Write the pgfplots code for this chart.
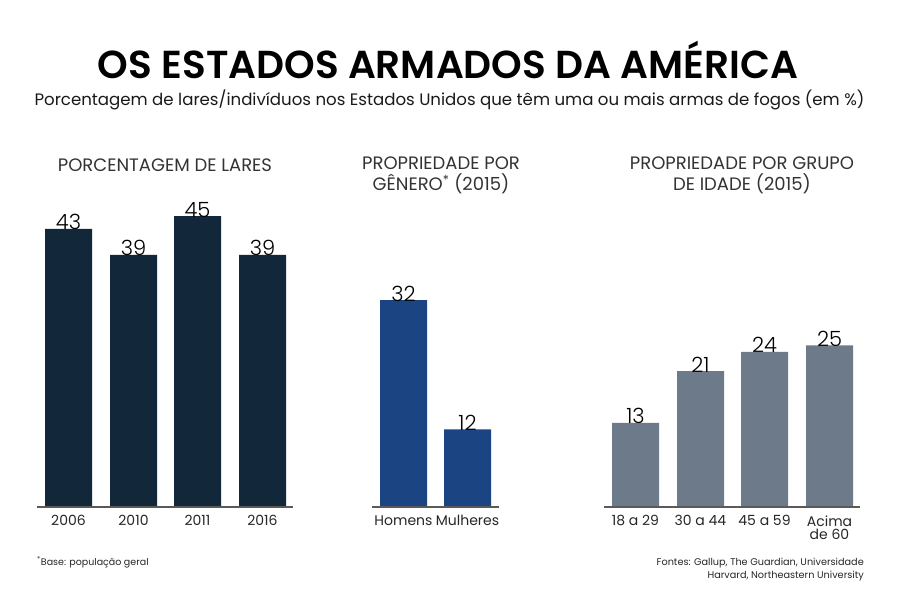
\documentclass[border=0pt]{standalone}
\usepackage{pgfplots}
\pgfplotsset{compat=1.18}
\usepackage{fontspec}
\setmainfont{Poppins}[UprightFont=* Light, BoldFont=* SemiBold]
\newfontfamily\popreg{Poppins}
\definecolor{navy}{HTML}{12283A}
\definecolor{blu}{HTML}{1B4483}
\definecolor{gry}{HTML}{6C7A89}
\definecolor{basel}{HTML}{5A5A5A}
\begin{document}
\begin{tikzpicture}
\begin{axis}[
 scale only axis, width=900pt, height=600pt,
 xmin=0, xmax=900, ymin=-14.385, ymax=78.42,
 axis x line=middle, axis y line=none,
 x axis line style={draw=none},
 major tick length=0pt, ytick=\empty,
 xtick={68.5,133.5,197.5,262.5,403.5,467.5,635.5,700.5,764.5,829.5},
 xticklabels={2006,2010,2011,2016,Homens,Mulheres,18 a 29,30 a 44,45 a 59,{Acima\\de 60}},
 x tick label style={font=\popreg\fontsize{14}{13}\selectfont, align=center, anchor=north, yshift=-5pt, text=black!85},
 nodes near coords,
 every node near coord/.append style={font=\fontsize{21}{21}\selectfont, anchor=base, yshift=-1pt, inner sep=0pt, text=black},
 /pgf/number format/assume math mode=true,
 clip=false,
]
\path (rel axis cs:0,0) rectangle (rel axis cs:1,1);
\addplot[ybar, bar width=47, bar shift=0pt, fill=navy, draw=none] coordinates {(68.5,43) (133.5,39) (197.5,45) (262.5,39)};
\addplot[ybar, bar width=47, bar shift=0pt, fill=blu, draw=none] coordinates {(403.5,32) (467.5,12)};
\addplot[ybar, bar width=47, bar shift=0pt, fill=gry, draw=none] coordinates {(635.5,13) (700.5,21) (764.5,24) (829.5,25)};
\draw[basel, line width=2pt] (axis cs:37,0) -- (axis cs:293,0);
\draw[basel, line width=2pt] (axis cs:372,0) -- (axis cs:499,0);
\draw[basel, line width=2pt] (axis cs:604,0) -- (axis cs:860,0);
\node[font=\bfseries\fontsize{39}{39}\selectfont, text=black] at (rel axis cs:0.4978,0.9) {OS ESTADOS ARMADOS DA AMÉRICA};
\node[font=\popreg\fontsize{16.6}{17}\selectfont, text=black!90] at (rel axis cs:0.4994,0.8333) {Porcentagem de lares/indivíduos nos Estados Unidos que têm uma ou mais armas de fogos (em \%)};
\node[font=\popreg\fontsize{18}{21.5}\selectfont, text=black!80] at (rel axis cs:0.1833,0.725) {PORCENTAGEM DE LARES};
\node[font=\popreg\fontsize{18}{21.5}\selectfont, text=black!80, align=center] at (rel axis cs:0.49,0.7075) {PROPRIEDADE POR\\GÊNERO\textsuperscript{*} (2015)};
\node[font=\popreg\fontsize{18}{21.5}\selectfont, text=black!80, align=center] at (rel axis cs:0.8244,0.7075) {PROPRIEDADE POR GRUPO\\DE IDADE (2015)};
\node[font=\popreg\fontsize{9.5}{13}\selectfont, text=black!85, anchor=west, inner sep=0pt] at (rel axis cs:0.0411,0.0633) {\textsuperscript{*}Base: população geral};
\node[font=\popreg\fontsize{9.7}{13}\selectfont, text=black!85, anchor=east, align=right, inner sep=0pt] at (rel axis cs:0.96,0.0508) {Fontes: Gallup, The Guardian, Universidade\\Harvard, Northeastern University};
\end{axis}
\end{tikzpicture}
\end{document}
